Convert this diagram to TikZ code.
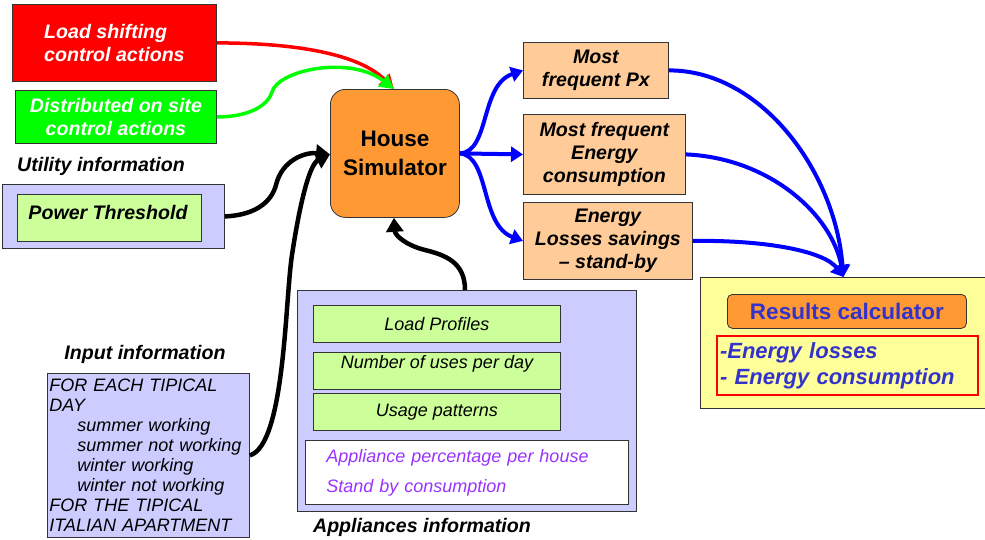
\documentclass[tikz,border=0pt]{standalone}
\usepackage{fontspec}
\setmainfont{Liberation Sans}
\usetikzlibrary{arrows.meta}

\definecolor{ctrlred}{HTML}{FF0000}
\definecolor{ctrlgreen}{HTML}{00FF00}
\definecolor{lavender}{HTML}{CCCCFF}
\definecolor{lightgreen}{HTML}{CCFF99}
\definecolor{simorange}{HTML}{FF9933}
\definecolor{peach}{HTML}{FFCC99}
\definecolor{paleyellow}{HTML}{FFFF99}
\definecolor{resblue}{HTML}{3333CC}
\definecolor{violet}{HTML}{9933FF}

\begin{document}
\begin{tikzpicture}[x=1pt, y=-1pt,
  box/.style={draw=black!80, line width=0.8pt, inner sep=0pt, anchor=north west, align=center},
  bi/.style={font=\fontsize{19.6}{23}\selectfont\bfseries\itshape},
  it/.style={font=\fontsize{18}{20}\selectfont\itshape},
  heavy/.style={line width=4.5pt, -{Triangle[width=17pt,length=14pt]}},
  bluearrow/.style={blue, line width=4pt, -{Triangle[width=15pt,length=12pt]}},
  ctrlarrow/.style={line width=3.5pt, -{Triangle[width=15pt,length=14pt]}}
]
\useasboundingbox (0,0) rectangle (985,539);

\node[box, fill=ctrlred, minimum width=204, minimum height=77, text=white, bi, align=left] (lsca) at (12,4) {Load shifting\\control actions};
\node[box, fill=ctrlgreen, minimum width=201, minimum height=53, text=white, bi] (dsca) at (15,90) {Distributed on site\\control actions};

\node[bi] (utillabel) at (101,166) {Utility information};
\node[box, fill=lavender, minimum width=222, minimum height=64] (utilbox) at (2,184) {};
\node[box, fill=lightgreen, minimum width=184, minimum height=47] (thres) at (17,194) {};
\node[bi] (threstext) at (108,212) {Power Threshold};

\node[box, fill=simorange, rounded corners=15pt, minimum width=129, minimum height=128,
  font=\fontsize{22.5}{29}\selectfont\bfseries] (house) at (330,89) {House\\Simulator};

\node[box, fill=peach, minimum width=145, minimum height=56, bi] (px) at (523,42) {Most\\frequent Px};
\node[box, fill=peach, minimum width=162, minimum height=80, bi] (econs) at (523,114) {Most frequent\\Energy\\consumption};
\node[box, fill=peach, minimum width=169, minimum height=77, bi] (eloss) at (523,202) {Energy\\Losses savings\\-- stand-by};

\node[box, fill=paleyellow, minimum width=288, minimum height=131] (results) at (700,277) {};
\node[box, fill=simorange, rounded corners=5pt, minimum width=239, minimum height=34,
  text=resblue, font=\fontsize{22.5}{25}\selectfont\bfseries] (rescalc) at (727,294) {Results calculator};
\node[box, draw=ctrlred, line width=2pt, text width=255, inner xsep=3, minimum height=59, align=left,
  text=resblue, font=\fontsize{22}{26}\selectfont\bfseries\itshape] (reslist) at (716,335) {-Energy losses\\- Energy consumption};

\node[bi] (inputlabel) at (145,354) {Input information};
\node[box, fill=lavender, text width=198, inner xsep=2, minimum height=164, align=left, it] (inputbox) at (47,373)
  {FOR EACH TIPICAL\\DAY\\\hspace*{28pt}summer working\\\hspace*{28pt}summer not working\\\hspace*{28pt}winter working\\\hspace*{28pt}winter not working\\FOR THE TIPICAL\\ITALIAN APARTMENT};

\node[box, fill=lavender, minimum width=339, minimum height=221] (applbox) at (297,290) {};
\node[box, fill=lightgreen, minimum width=247, minimum height=37, it] (loadprof) at (313,305) {Load Profiles};
\node[box, fill=lightgreen, minimum width=247, minimum height=37] (nuses) at (313,352) {};
\node[it] (nusestext) at (437,364) {Number of uses per day};
\node[box, fill=lightgreen, minimum width=247, minimum height=37, it] (usage) at (313,393) {Usage patterns};
\node[box, fill=white, text width=281, inner xsep=21, minimum height=64, align=left, text=violet,
  font=\fontsize{18}{30}\selectfont\itshape] (applwhite) at (305,440) {Appliance percentage per house\\Stand by consumption};
\node[bi] (appllabel) at (422,527) {Appliances information};

\draw[ctrlarrow, ctrlred] (lsca.east) .. controls (300,43) and (360,55) .. ([xshift=-1pt]house.north);
\draw[ctrlarrow, ctrlgreen] (dsca.east) .. controls (250,117) and (268,105) .. (272,92)
  .. controls (278,70) and (350,55) .. ([xshift=-1pt]house.north);

\draw[heavy] (utilbox.east) .. controls (258,215) and (272,200) .. (276,185)
  .. controls (282,160) and (305,152) .. ([yshift=-1pt]house.west);
\draw[heavy] (inputbox.east) .. controls (285,445) and (285,300) .. (292,255)
  .. controls (298,215) and (308,165) .. ([yshift=-1pt]house.west);
\draw[heavy] ([xshift=-2pt]applbox.north east -| 467,290) .. controls (465,262) and (445,255) .. (425,250)
  .. controls (405,245) and (395,235) .. ([xshift=-1pt]house.south);

\draw[bluearrow] (house.east) .. controls (490,152) and (480,85) .. (px.west);
\draw[bluearrow] (house.east) -- (econs.west);
\draw[bluearrow] (house.east) .. controls (490,156) and (480,225) .. (eloss.west);

\draw[bluearrow] (px.east) .. controls (760,70) and (835,170) .. ([xshift=-1pt]results.north);
\draw[bluearrow] (econs.east) .. controls (770,158) and (832,215) .. ([xshift=-1pt]results.north);
\draw[bluearrow] (eloss.east) .. controls (770,240) and (825,252) .. ([xshift=-1pt]results.north);
\end{tikzpicture}
\end{document}
